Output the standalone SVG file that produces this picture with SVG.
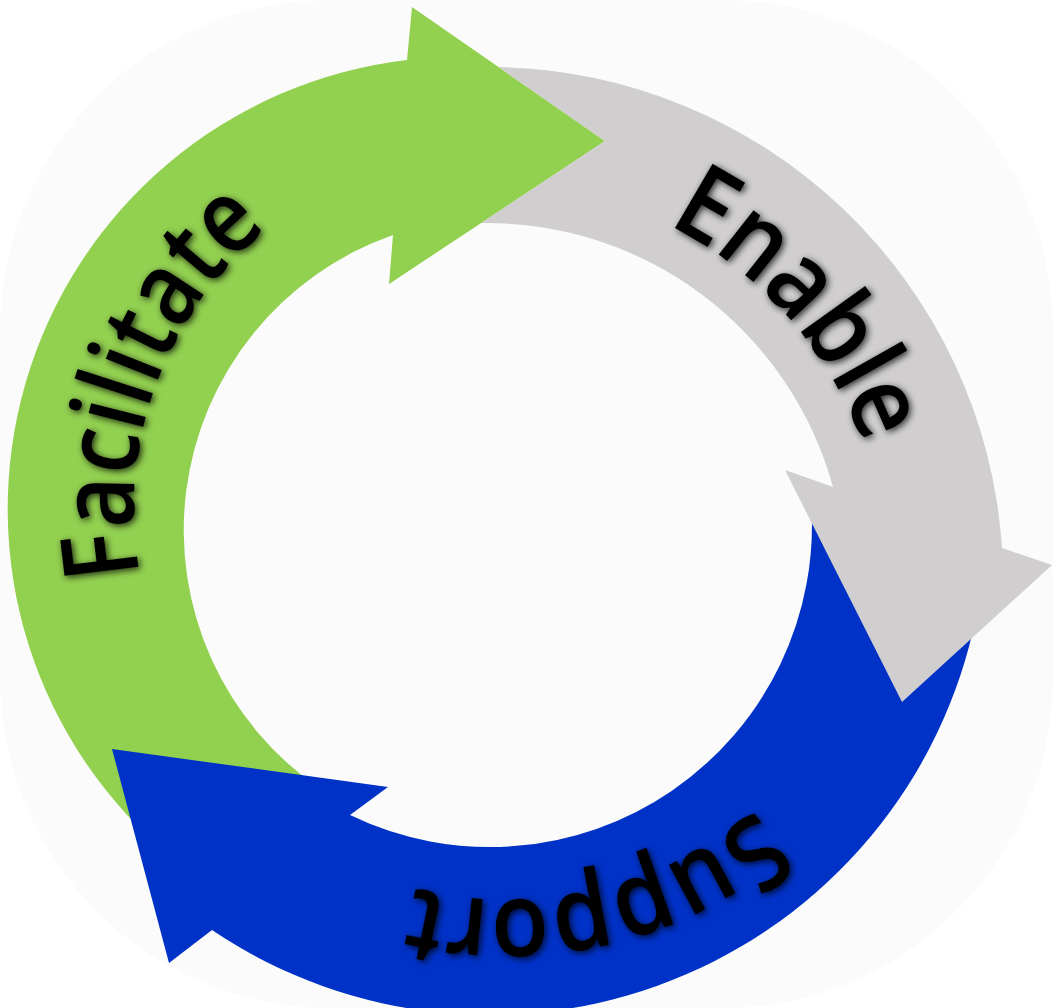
<svg xmlns="http://www.w3.org/2000/svg" width="1053" height="1008" viewBox="0 0 1053 1008">
<defs>
<style>
.lbl{font-family:"Open Sans","Segoe UI","DejaVu Sans",sans-serif;font-size:104px;font-weight:600;fill:#000;filter:url(#sh)}
.g{fill:#92d050}
.e{fill:#d0cece}
.s{fill:#0032c8}
</style>
<filter id="sh" x="-20%" y="-20%" width="140%" height="140%">
<feGaussianBlur in="SourceAlpha" stdDeviation="3.5"/>
<feOffset dx="1.5" dy="1.5" result="b"/>
<feComponentTransfer><feFuncA type="linear" slope="0.8"/></feComponentTransfer>
<feMerge><feMergeNode/><feMergeNode in="SourceGraphic"/></feMerge>
</filter>
<path id="tpG" d="M140,575 A360,360 0 0 1 268.2,228.4"/>
<path id="tpE" d="M667.1,224.3 A400,400 0 0 1 864.1,445.8"/>
<path id="tpS" d="M756,808 A380,380 0 0 1 408.4,886.6"/>
</defs>
<rect width="1053" height="1008" fill="#ffffff"/>
<rect width="1053" height="1008" rx="330" ry="330" fill="#fbfbfb"/>
<g id="facilitate">
<path class="g" d="M175,860 A452,452 0 0 1 407,60 L412,7 L605,141 L389,284 L393,235 A313,313 0 0 0 322,790 Z"/>
<text class="lbl"><textPath href="#tpG" textLength="388" lengthAdjust="spacingAndGlyphs">Facilitate</textPath></text>
</g>
<g id="support">
<path class="s" d="M979,600 A496,496 0 0 1 212,930 L169,963 L112,749 L388,787 L350,815 A322,322 0 0 0 811,500 Z"/>
<text class="lbl"><textPath href="#tpS" textLength="366" lengthAdjust="spacingAndGlyphs">Support</textPath></text>
</g>
<g id="enable">
<path class="e" d="M498.6,67.1 A515,515 0 0 1 1002,548 L1052,565 L902,702 L785,470 L833,487 A359,359 0 0 0 481,223.1 L605,141 Z"/>
<text class="lbl"><textPath href="#tpE" textLength="303" lengthAdjust="spacingAndGlyphs">Enable</textPath></text>
</g>
<g id="connectors"></g>
</svg>
